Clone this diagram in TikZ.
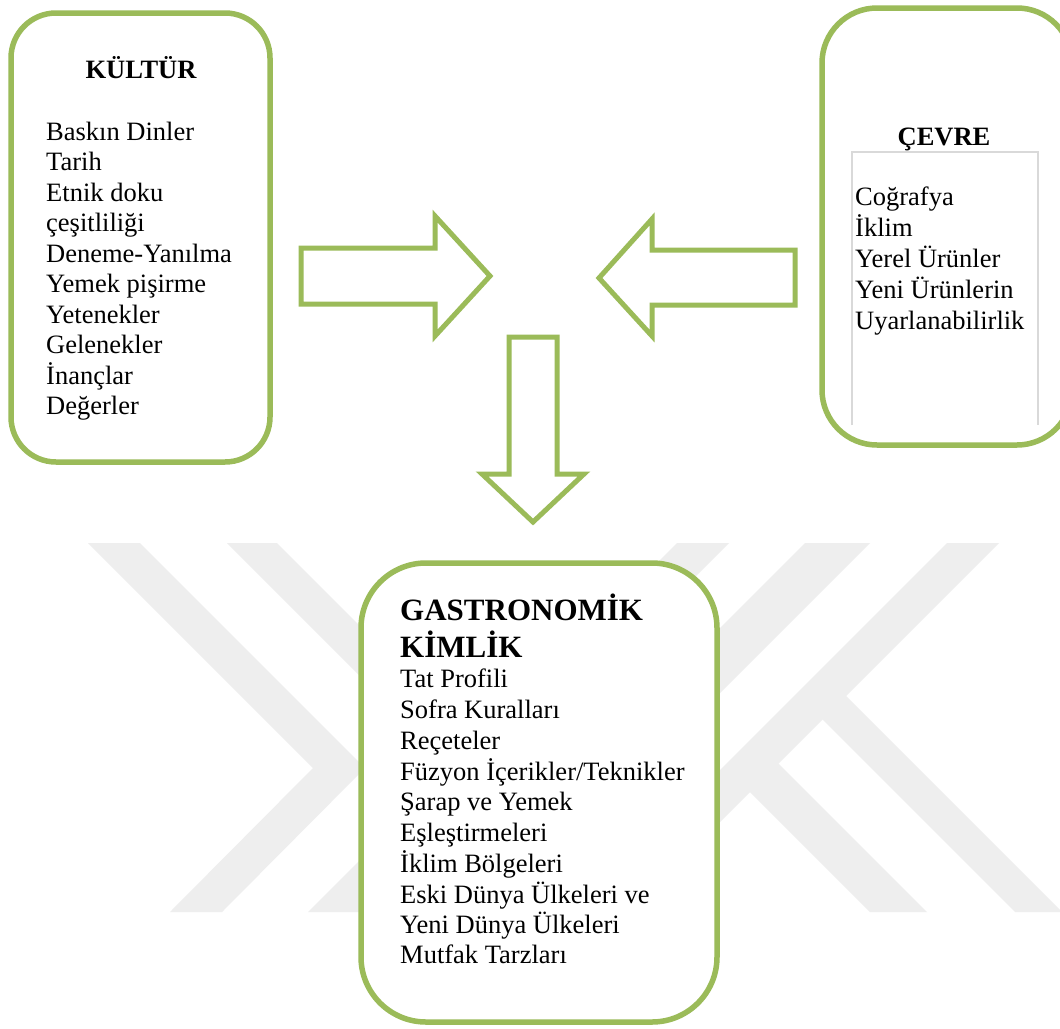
\documentclass[tikz,border=0pt]{standalone}
\usepackage{fontspec}
\setmainfont{Liberation Serif}
\usepackage{xcolor}
\definecolor{leafgreen}{HTML}{9BBB59}
\definecolor{markgray}{HTML}{EEEEEE}
\definecolor{framegray}{HTML}{D9D9D9}
\tikzset{
  panel/.style={draw=leafgreen, line width=5.5pt, fill=white},
  blockarrow/.style={draw=leafgreen, line width=5pt, fill=white, line join=miter},
  item/.style={anchor=base west, inner sep=0pt, font=\fontsize{26.5}{30.5}\selectfont},
  head/.style={anchor=base, inner sep=0pt, font=\fontsize{26.5}{30.5}\selectfont\bfseries},
  bighead/.style={anchor=base west, inner sep=0pt, font=\fontsize{31}{36}\selectfont\bfseries}
}

\begin{document}
\begin{tikzpicture}[x=1pt, y=-1pt]
\useasboundingbox (0,0) rectangle (1060,1028);
\clip (0,0) rectangle (1060,1028);
\fill[white] (0,0) rectangle (1060,1028);
\fill[markgray] (88,543)--(140,543)--(365,768)--(222,912)--(170,912)--(313,768)--cycle;
\fill[markgray] (227,543)--(277,543)--(646,912)--(596,912)--cycle;
\fill[markgray] (677,543)--(729,543)--(360,912)--(308,912)--cycle;
\fill[markgray] (805,543)--(870,543)--(501,912)--(436,912)--cycle;
\fill[markgray] (947,543)--(999,543)--(630,912)--(578,912)--cycle;
\fill[markgray] (737,779)--(765.5,750.5)--(927,912)--(870,912)--cycle;
\fill[markgray] (809.5,706.5)--(833,683)--(1062,912)--(1015,912)--cycle;
\draw[panel, rounded corners=45pt] (11,13) rectangle (270,462);
\draw[panel, rounded corners=55pt] (822,8) rectangle (1072,445);
\draw[panel, rounded corners=65pt] (361,563) rectangle (717,1022);
\draw[framegray, line width=1.2pt] (852,425)--(852,152)--(1038,152)--(1038,425);
\draw[blockarrow] (301,248)--(435,248)--(435,216)--(490,276)--(435,336)--(435,304)--(301,304)--cycle;
\draw[blockarrow] (795,250)--(652,250)--(652,219)--(599,278)--(652,336)--(652,305)--(795,305)--cycle;
\draw[blockarrow] (509,337)--(557,337)--(557,474)--(584,474)--(533,522)--(482,474)--(509,474)--cycle;
\node[head] (kultur) at (141,78) {KÜLTÜR};
\node[item] (k1) at (46,140) {Baskın Dinler};
\node[item] (k2) at (46,170.5) {Tarih};
\node[item] (k3) at (46,201) {Etnik doku};
\node[item] (k4) at (46,231.5) {çeşitliliği};
\node[item] (k5) at (46,262) {Deneme-Yanılma};
\node[item] (k6) at (46,292.5) {Yemek pişirme};
\node[item] (k7) at (46,323) {Yetenekler};
\node[item] (k8) at (46,353.5) {Gelenekler};
\node[item] (k9) at (46,384) {İnançlar};
\node[item] (k10) at (46,414.5) {Değerler};
\node[head] (cevre) at (944,145) {ÇEVRE};
\node[item] (c1) at (855,205) {Coğrafya};
\node[item] (c2) at (855,236) {İklim};
\node[item] (c3) at (855,267) {Yerel Ürünler};
\node[item] (c4) at (855,298) {Yeni Ürünlerin};
\node[item] (c5) at (855,329) {Uyarlanabilirlik};
\node[bighead] (gastro) at (400,620) {GASTRONOMİK};
\node[bighead] (kimlik) at (400,657) {KİMLİK};
\node[item] (g1) at (400,687) {Tat Profili};
\node[item] (g2) at (400,718) {Sofra Kuralları};
\node[item] (g3) at (400,749) {Reçeteler};
\node[item] (g4) at (400,780) {Füzyon İçerikler/Teknikler};
\node[item] (g5) at (400,810) {Şarap ve Yemek};
\node[item] (g6) at (400,841) {Eşleştirmeleri};
\node[item] (g7) at (400,872) {İklim Bölgeleri};
\node[item] (g8) at (400,903) {Eski Dünya Ülkeleri ve};
\node[item] (g9) at (400,933) {Yeni Dünya Ülkeleri};
\node[item] (g10) at (400,963) {Mutfak Tarzları};
\end{tikzpicture}
\end{document}
